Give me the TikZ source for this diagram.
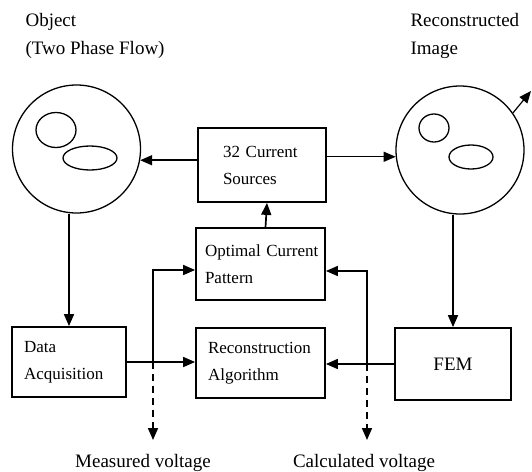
\documentclass[tikz,border=0pt]{standalone}
\usepackage{fontspec}
\setmainfont{Liberation Serif}
\usetikzlibrary{arrows.meta}
\newcommand{\boxfont}{\fontsize{17}{27}\selectfont}
\newcommand{\labfont}{\fontsize{19}{28}\selectfont}
\tikzset{
	blk/.style={draw, line width=1.8pt, inner ysep=0pt, align=left, font=\boxfont},
	vessel/.style={draw, circle, line width=1.3pt, minimum size=128pt, inner sep=0pt},
	bubble/.style={line width=1.3pt},
	arr/.style={-{Triangle[length=12pt,width=10pt]}, line width=1.7pt},
	lab/.style={font=\labfont, align=left, anchor=west},
}
\begin{document}
\begin{tikzpicture}[x=1pt,y=-1pt]% EIT loop
			\useasboundingbox (0,0) rectangle (532,471);
			\node[vessel] (obj) at (76.5,149) {};
			\node[vessel] (rec) at (460,150) {};
			\draw[bubble] (56,130) ellipse [x radius=20, y radius=17.5]  (90,158) ellipse [x radius=27, y radius=12];
			\draw[bubble] (434,128) ellipse [x radius=15, y radius=14]  (471,157) ellipse [x radius=22, y radius=12];
			\node[lab] (objlab) at (22,36) {Object\\(Two Phase Flow)};
			\node[lab] (reclab) at (407,36) {Reconstructed\\Image};
			\node[blk, text width=78pt, inner xsep=25pt, minimum height=74pt] (src) at (262,165) {\mbox{32 Current}\\Sources};
			\node[blk, text width=111pt, inner xsep=9pt, minimum height=72pt] (opt) at (260.5,264) {\mbox{Optimal Current}\\Pattern};
			\node[blk, text width=105pt, inner xsep=12pt, minimum height=70pt] (alg) at (260.5,363) {\mbox{Reconstruction}\\Algorithm};
			\node[blk, text width=90pt, inner xsep=12pt, minimum height=70pt] (daq) at (69,362) {Data\\Acquisition};
			\node[blk, align=center, font=\labfont, minimum width=116pt, minimum height=72pt] (fem) at (453,364) {FEM};
			\coordinate (out) at (531,91);
			\coordinate (mtop) at (153,270);  \coordinate (mjoin) at (mtop |- daq.east);  \coordinate (mend) at (153,440);
			\coordinate (ctop) at (367,271);  \coordinate (cjoin) at (ctop |- fem.west);  \coordinate (cend) at (367,440);
			\draw[arr] (src.west |- obj.-10) -- (obj.-10);
			\draw[arr, line width=1.2pt] (src.east |- rec.186) -- (rec.186);
			\draw[arr, line width=1.2pt] (rec.35) -- (out);
			\draw[arr] (daq.north |- obj.south) -- (daq.north);
			\draw[arr] (fem.north |- rec.south) -- (fem.north);
			\draw[arr] ([xshift=5pt]opt.north) -- ([xshift=5pt]src.south);
			\draw[arr] (daq.east) -- (daq.east -| alg.west);
			\draw[arr] (fem.west) -- (fem.west -| alg.east);
			\draw[arr] (mjoin) -- (mtop) -- (mtop -| opt.west);
			\draw[arr] (cjoin) -- (ctop) -- (ctop -| opt.east);
			\draw[arr, dash pattern=on 7pt off 5pt] (mjoin) -- (mend);
			\draw[arr, dash pattern=on 7pt off 5pt] (cjoin) -- (cend);
			\node[lab, anchor=center] (mlab) at (143,463) {Measured voltage};
			\node[lab, anchor=center] (clab) at (364,463) {Calculated voltage};
\end{tikzpicture}
\end{document}
